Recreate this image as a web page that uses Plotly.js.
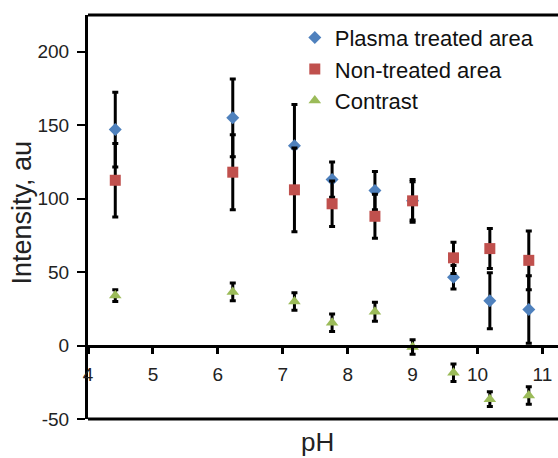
<!DOCTYPE html>
<html>
<head>
<meta charset="utf-8">
<script src="https://cdn.plot.ly/plotly-3.0.1.min.js"></script>
<style>html,body{margin:0;padding:0;background:#fff;}#chart{width:558px;height:458px;}</style>
</head>
<body>
<div id="chart"></div>
<script>
var ph = [4.42, 6.23, 7.18, 7.76, 8.42, 9.0, 9.63, 10.19, 10.79];
var plasma = [147, 155, 136, 113, 105.5, 98.5, 46.5, 30.5, 24.5];
var plasmaErr = [25.5, 26.5, 28, 12, 13, 13, 8, 19, 23];
var nonTreated = [112.5, 118, 106, 96.5, 88, 98.5, 59.7, 66, 58];
var nonTreatedErr = [25, 25.5, 28.5, 15.5, 15, 14.5, 10.6, 13.6, 20];
var contrast = [34, 36.5, 30, 15.5, 23, -1, -18.5, -36.5, -34];
var contrastErr = [4, 6, 6, 6, 6.5, 5, 6, 5, 6];
var seriesNames = ["Plasma treated area", "Non-treated area", "Contrast"];
var xTicks = [4, 5, 6, 7, 8, 9, 10, 11];
var yTicks = [-50, 0, 50, 100, 150, 200];

var FONT = "Liberation Sans, Arial, sans-serif";
function err(arr) {
  return {type: "data", array: arr, visible: true, color: "#000", thickness: 3, width: 3};
}
var traces = [
  {x: ph, y: plasma, name: seriesNames[0], mode: "markers", type: "scatter",
   marker: {symbol: "diamond", size: 10, color: "#4F81BD"}, error_y: err(plasmaErr)},
  {x: ph, y: nonTreated, name: seriesNames[1], mode: "markers", type: "scatter",
   marker: {symbol: "square", size: 11, color: "#C0504D"}, error_y: err(nonTreatedErr)},
  {x: ph, y: contrast, name: seriesNames[2], mode: "markers", type: "scatter",
   marker: {symbol: "triangle-up", size: 11, color: "#9BBB59"}, error_y: err(contrastErr)}
];

var layout = {
  width: 558, height: 458,
  margin: {l: 88, r: 0, t: 15, b: 39},
  paper_bgcolor: "#fff", plot_bgcolor: "#fff",
  font: {family: FONT, color: "#222"},
  showlegend: true,
  legend: {x: 0.44, y: 0.996, xanchor: "left", yanchor: "top",
           font: {family: FONT, size: 22, color: "#111"}, bgcolor: "rgba(0,0,0,0)",
           tracegroupgap: 0, itemwidth: 30},
  xaxis: {range: [4, 11.24], tickvals: xTicks, ticktext: xTicks.map(String),
          anchor: "free", position: 50 / 275,
          showline: true, linecolor: "#000", linewidth: 3,
          ticks: "outside", ticklen: 6, tickwidth: 3, tickcolor: "#000",
          showgrid: false, zeroline: false, ticklabelstandoff: 5,
          tickfont: {family: FONT, size: 19, color: "#222"}},
  yaxis: {range: [-50, 225], tickvals: yTicks, ticktext: yTicks.map(String),
          showline: true, linecolor: "#000", linewidth: 3,
          ticks: "outside", ticklen: 8, tickwidth: 2, tickcolor: "#000",
          showgrid: false, zeroline: false, ticklabelstandoff: 4,
          tickfont: {family: FONT, size: 19, color: "#222"}},
  shapes: [
    {type: "line", xref: "paper", yref: "paper", x0: 0, x1: 1, y0: 1, y1: 1, line: {color: "#000", width: 3}},
    {type: "line", xref: "paper", yref: "paper", x0: 0, x1: 1, y0: 0, y1: 0, line: {color: "#000", width: 3}}
  ],
  annotations: [
    {text: "Intensity, au", xref: "paper", yref: "paper", x: -0.1404, y: 0.511,
     xanchor: "center", yanchor: "middle", textangle: -90, showarrow: false,
     font: {family: FONT, size: 27, color: "#222"}},
    {text: "pH", xref: "paper", yref: "paper", x: 0.489, y: -0.058,
     xanchor: "center", yanchor: "middle", showarrow: false,
     font: {family: FONT, size: 26, color: "#222"}}
  ]
};
Plotly.newPlot("chart", traces, layout, {staticPlot: true, displayModeBar: false});
</script>
</body>
</html>
